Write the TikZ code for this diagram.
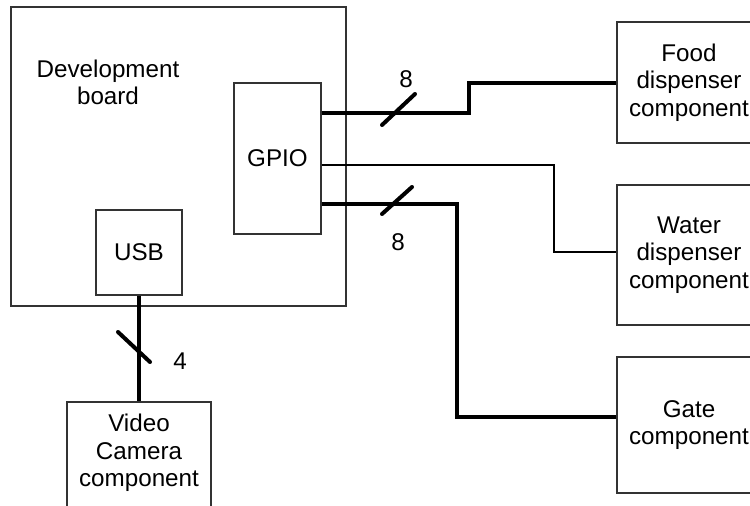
\documentclass[tikz,border=0pt]{standalone}
\usepackage{fontspec}
\setmainfont{Liberation Sans}
\begin{document}
\begin{tikzpicture}[x=1pt,y=-1pt,
  box/.style={draw=black!80,line width=1.3pt,inner sep=0pt,align=center,font=\fontsize{24.2}{27.5}\selectfont},
  txt/.style={inner sep=0pt,align=center,font=\fontsize{24.2}{27.5}\selectfont},
  bus/.style={line width=4pt},
  wire/.style={line width=1.3pt},
  tick/.style={line width=4pt,line cap=round}]
\useasboundingbox (0,0) rectangle (750,506);
\clip (0,0) rectangle (750,506);
\node[box,minimum width=335pt,minimum height=299pt] (board) at (178.5,156.5) {};
\node[txt] (boardlbl) at (108,82.5) {Development\\board};
\node[box,minimum width=87pt,minimum height=151pt] (gpio) at (277.5,158.5) {GPIO};
\node[box,minimum width=86pt,minimum height=85pt] (usb) at (139,252.5) {USB};
\node[box,minimum width=144pt,minimum height=121pt] (food) at (689,82.5) {Food\\dispenser\\component};
\node[box,minimum width=144pt,minimum height=140pt] (water) at (689,255) {Water\\dispenser\\component};
\node[box,minimum width=144pt,minimum height=136pt] (gate) at (689,425) {Gate\\component};
\node[box,minimum width=144pt,minimum height=112pt] (video) at (139,458) {};
\node[txt] (videolbl) at (139,453) {Video\\Camera\\component};
% connectors
\draw[bus] (gpio.east |- 0,113) -| (469,98) |- (food.west);
\draw[wire] (gpio.east |- 0,165) -| (554,200) |- (water.west |- 0,252);
\draw[bus] (gpio.east |- 0,204) -| (457,300) |- (gate.west |- 0,417);
\draw[bus] (usb.south) -- (video.north);
% bus width ticks
\draw[tick] (382,125) -- (415,94);
\draw[tick] (382,214) -- (412,187);
\draw[tick] (118,332) -- (150,362);
\node[txt] (n1) at (406,79) {8};
\node[txt] (n2) at (398,242) {8};
\node[txt] (n3) at (180,361) {4};
\end{tikzpicture}
\end{document}
